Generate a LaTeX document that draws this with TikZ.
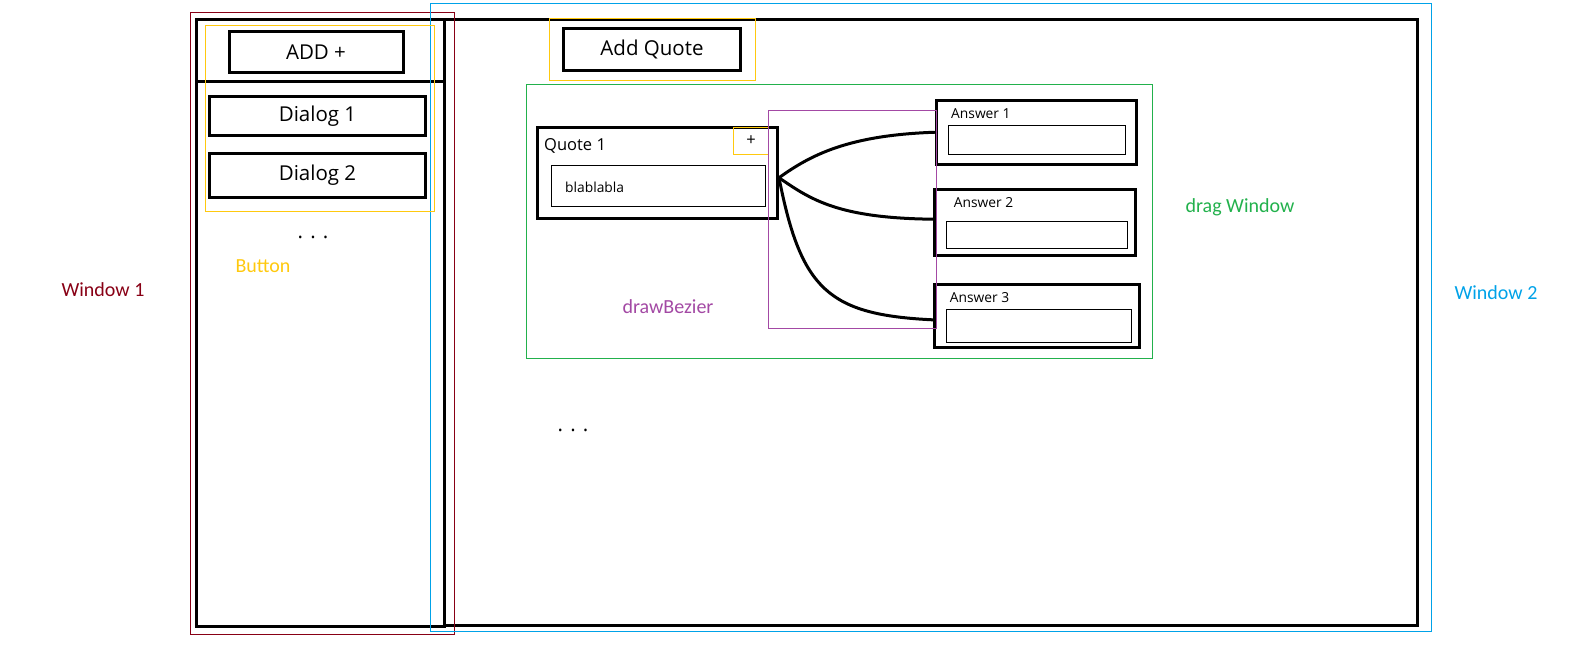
\documentclass[tikz,border=0pt]{standalone}
\usepackage{fontspec}
\setmainfont{Open Sans}
\newfontfamily\notefont{Carlito}
\usetikzlibrary{positioning}

\definecolor{winred}{RGB}{136,0,21}
\definecolor{winblue}{RGB}{0,162,232}
\definecolor{btngold}{RGB}{255,201,14}
\definecolor{dragreen}{RGB}{34,177,76}
\definecolor{bezpurple}{RGB}{163,73,164}

\newcommand{\bigtext}{\fontsize{20.5}{24}\selectfont}
\newcommand{\midtext}{\fontsize{16.5}{20}\selectfont}
\newcommand{\smalltext}{\fontsize{13.8}{16}\selectfont}

\tikzset{
  heavy/.style={draw, line width=3pt, inner sep=0pt},
  field/.style={draw, line width=1pt, inner sep=0pt},
  note/.style={font=\notefont\fontsize{20}{24}\selectfont, inner sep=0pt},
  caption/.style={inner sep=0pt, anchor=west},
  link/.style={line width=3pt, line cap=round},
}

\begin{document}
\begin{tikzpicture}[x=1pt, y=-1pt]
\useasboundingbox (0,0) rectangle (1578,648);

% windows
\draw[line width=3pt] (196.5,19.5) rectangle (444.5,626.5);
\draw[line width=3pt] (196.5,81.5) -- (444.5,81.5);
\draw[line width=3pt] (444.5,19) -- (1417.5,19) -- (1417.5,625) -- (444.5,625);
\draw[line width=1pt, color=winred] (190.5,12.5) rectangle (454,634);
\draw[line width=1pt, color=winblue] (430.5,3.5) rectangle (1431.5,631);

% left list
\node[heavy, minimum width=174pt, minimum height=40.5pt, font=\bigtext] (addbtn) at (316,51.75) {ADD +};
\node[heavy, minimum width=215.4pt, minimum height=39pt, font=\bigtext] (dlg1) at (317.5,116) {Dialog 1};
\node[heavy, minimum width=215.4pt, minimum height=44.6pt, font=\bigtext] (dlg2) at (317.5,175.5) {Dialog 2};
\draw[line width=1pt, color=btngold] (205.5,25.5) rectangle (434.5,211.5);
\node[font=\bigtext, inner sep=0pt] (dots1) at (313,237) {. . .};

% right side
\node[heavy, minimum width=177.6pt, minimum height=42pt, font=\bigtext] (addquote) at (652,49.2) {Add Quote};
\draw[line width=1pt, color=btngold] (549.5,18.5) rectangle (755.5,80.5);
\draw[line width=1pt, color=dragreen] (526.5,84.5) rectangle (1152.5,358.5);

\node[heavy, minimum width=240.5pt, minimum height=91.5pt] (quote) at (657.25,172.75) {};
\node[caption, font=\midtext] (quotetitle) at (544,146) {Quote 1};
\node[field, minimum width=214pt, minimum height=41pt] (quotefield) at (658.5,186) {};
\node[caption, font=\smalltext] (quotetext) at (565,187.5) {blablabla};
\node[draw=btngold, line width=1pt, minimum width=35pt, minimum height=27pt, inner sep=0pt, font=\midtext] (plus) at (751,141) {+};

\node[heavy, minimum width=200pt, minimum height=63.5pt] (ans1) at (1036,132.25) {};
\node[caption, font=\smalltext] (ans1title) at (951,113.3) {Answer 1};
\node[field, minimum width=177pt, minimum height=29pt] (ans1field) at (1037,140) {};

\node[heavy, minimum width=200.7pt, minimum height=66pt] (ans2) at (1035.2,222.2) {};
\node[caption, font=\smalltext] (ans2title) at (953.7,202.7) {Answer 2};
\node[field, minimum width=181pt, minimum height=27pt] (ans2field) at (1037,235) {};

\node[heavy, minimum width=204.4pt, minimum height=62.7pt] (ans3) at (1037,315.85) {};
\node[caption, font=\smalltext] (ans3title) at (949.7,297.7) {Answer 3};
\node[field, minimum width=185pt, minimum height=33pt] (ans3field) at (1039,326) {};

\draw[line width=1pt, color=bezpurple] (768.5,110.5) rectangle (936,328.5);

\draw[link] ([yshift=-5pt]quote.east) .. controls +(32,-23) and +(-86,3) .. (ans1.west);
\draw[link] ([yshift=-5pt]quote.east) .. controls +(32,22) and +(-95,-1) .. ([yshift=3pt]ans2.west);
\draw[link] ([yshift=-5pt]quote.east) .. controls +(22,112) and +(-105,-5) .. ([yshift=-4pt]ans3.west);

\node[font=\bigtext, inner sep=0pt] (dots2) at (573,430) {. . .};

% labels
\node[note, text=winred] (win1) at (103,290) {Window 1};
\node[note, text=winblue] (win2) at (1496,293) {Window 2};
\node[note, text=btngold] (button) at (263,266.5) {Button};
\node[note, text=bezpurple] (bezier) at (668,307) {drawBezier};
\node[note, text=dragreen] (drag) at (1240,207) {drag Window};
\end{tikzpicture}
\end{document}
